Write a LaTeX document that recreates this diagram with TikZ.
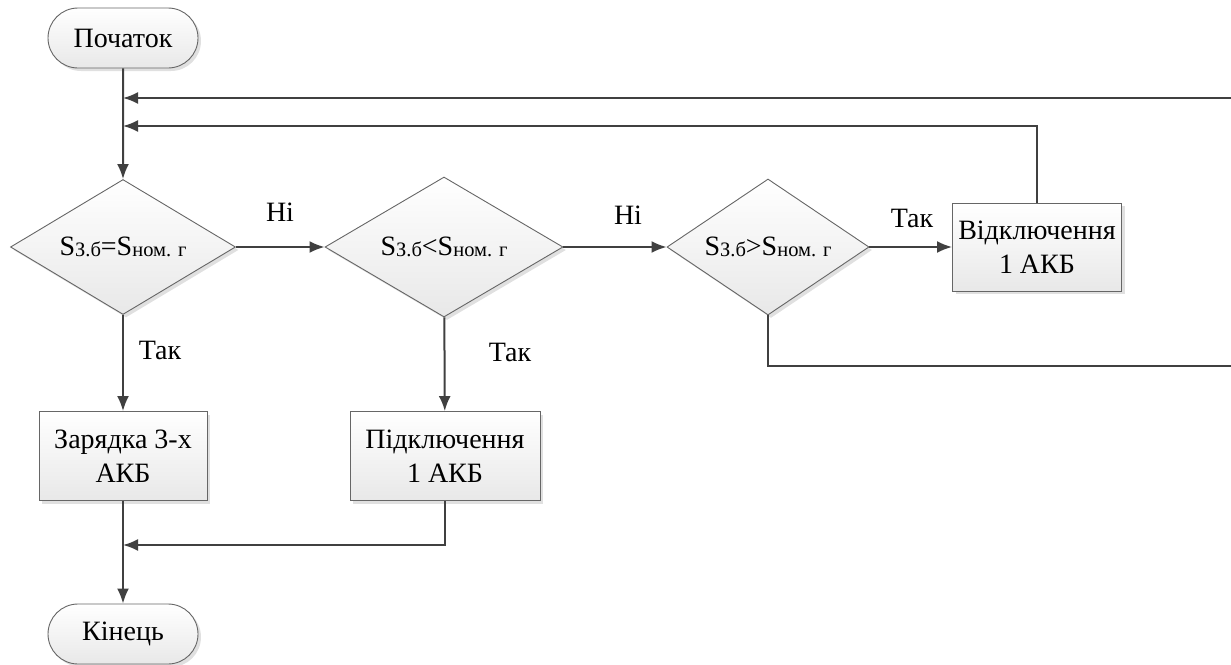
\documentclass[tikz,border=0pt]{standalone}
\usepackage{fontspec}
\setmainfont{Liberation Serif}
\usetikzlibrary{shapes.geometric,shapes.misc,shadows,arrows.meta}
\definecolor{linegray}{HTML}{404040}
\definecolor{edgegray}{HTML}{666666}
\definecolor{shadegray}{HTML}{E8E8E8}
\definecolor{shadowgray}{HTML}{E0E0E0}
\newcommand\lowtxt[1]{\raisebox{-1.5pt}{\fontsize{20.5}{20.5}\selectfont #1}}

\begin{document}
\begin{tikzpicture}[x=1pt,y=-1pt, font=\fontsize{28}{34}\selectfont,
  blockbase/.style={draw=edgegray, line width=0.9pt, top color=white, bottom color=shadegray,
    drop shadow={shadow xshift=3pt, shadow yshift=-3pt, fill=shadowgray, opacity=1}},
  term/.style={blockbase, rounded rectangle, minimum width=150pt, minimum height=60pt, inner sep=0pt},
  test/.style={blockbase, diamond, aspect=1.7, inner sep=0pt},
  act/.style={blockbase, rectangle, align=center, minimum height=89pt, inner sep=0pt},
  flow/.style={draw=linegray, line width=2pt, -{Latex[length=15pt,width=12pt]}},
  wire/.style={draw=linegray, line width=2pt},
  lbl/.style={inner sep=0pt}]
\useasboundingbox (0,0) rectangle (1231,664);
% blocks:
\node[term] (start) at (123,38) {Початок};
\node[test, minimum width=225pt, minimum height=135pt] (eq) at (123,247) {S\lowtxt{З.б}=S\lowtxt{ном. г}};
\node[test, minimum width=238pt, minimum height=140pt] (lt) at (444,247) {S\lowtxt{З.б}<S\lowtxt{ном. г}};
\node[test, minimum width=202pt, minimum height=136pt] (gt) at (768,247) {S\lowtxt{З.б}>S\lowtxt{ном. г}};
\node[act, minimum width=169pt, minimum height=88pt] (off) at (1037,247) {Відключення\\1 АКБ};
\node[act, minimum width=168pt] (charge) at (123,456) {Зарядка 3-х\\АКБ};
\node[act, minimum width=190pt] (on) at (445,456) {Підключення\\1 АКБ};
\node[term] (finish) at (123,634) {Кінець};
% answers:
\node[lbl] (no1) at (280,212) {Ні};
\node[lbl] (no2) at (628,215) {Ні};
\node[lbl] (yes3) at (912,218) {Так};
\node[lbl] (yes1) at (160,350) {Так};
\node[lbl] (yes2) at (510,352) {Так};
% join points:
\coordinate (top1) at (123,98);
\coordinate (top2) at (123,126);
\coordinate (edge1) at (1231,98);
\coordinate (edge2) at (1231,366);
\coordinate (join) at (123,545);
% connectors:
\draw[flow] (start) -- (eq);
\draw[flow] (edge1) -- (top1);
\draw[flow] (off.north) |- (top2);
\draw[flow] (eq) -- (lt);
\draw[flow] (lt) -- (gt);
\draw[flow] (gt) -- (off);
\draw[flow] (eq) -- (charge);
\draw[flow] (lt) -- (on);
\draw[wire] (gt.south) |- (edge2);
\draw[flow] (on.south) |- (join);
\draw[flow] (charge) -- (finish);
\end{tikzpicture}
\end{document}
